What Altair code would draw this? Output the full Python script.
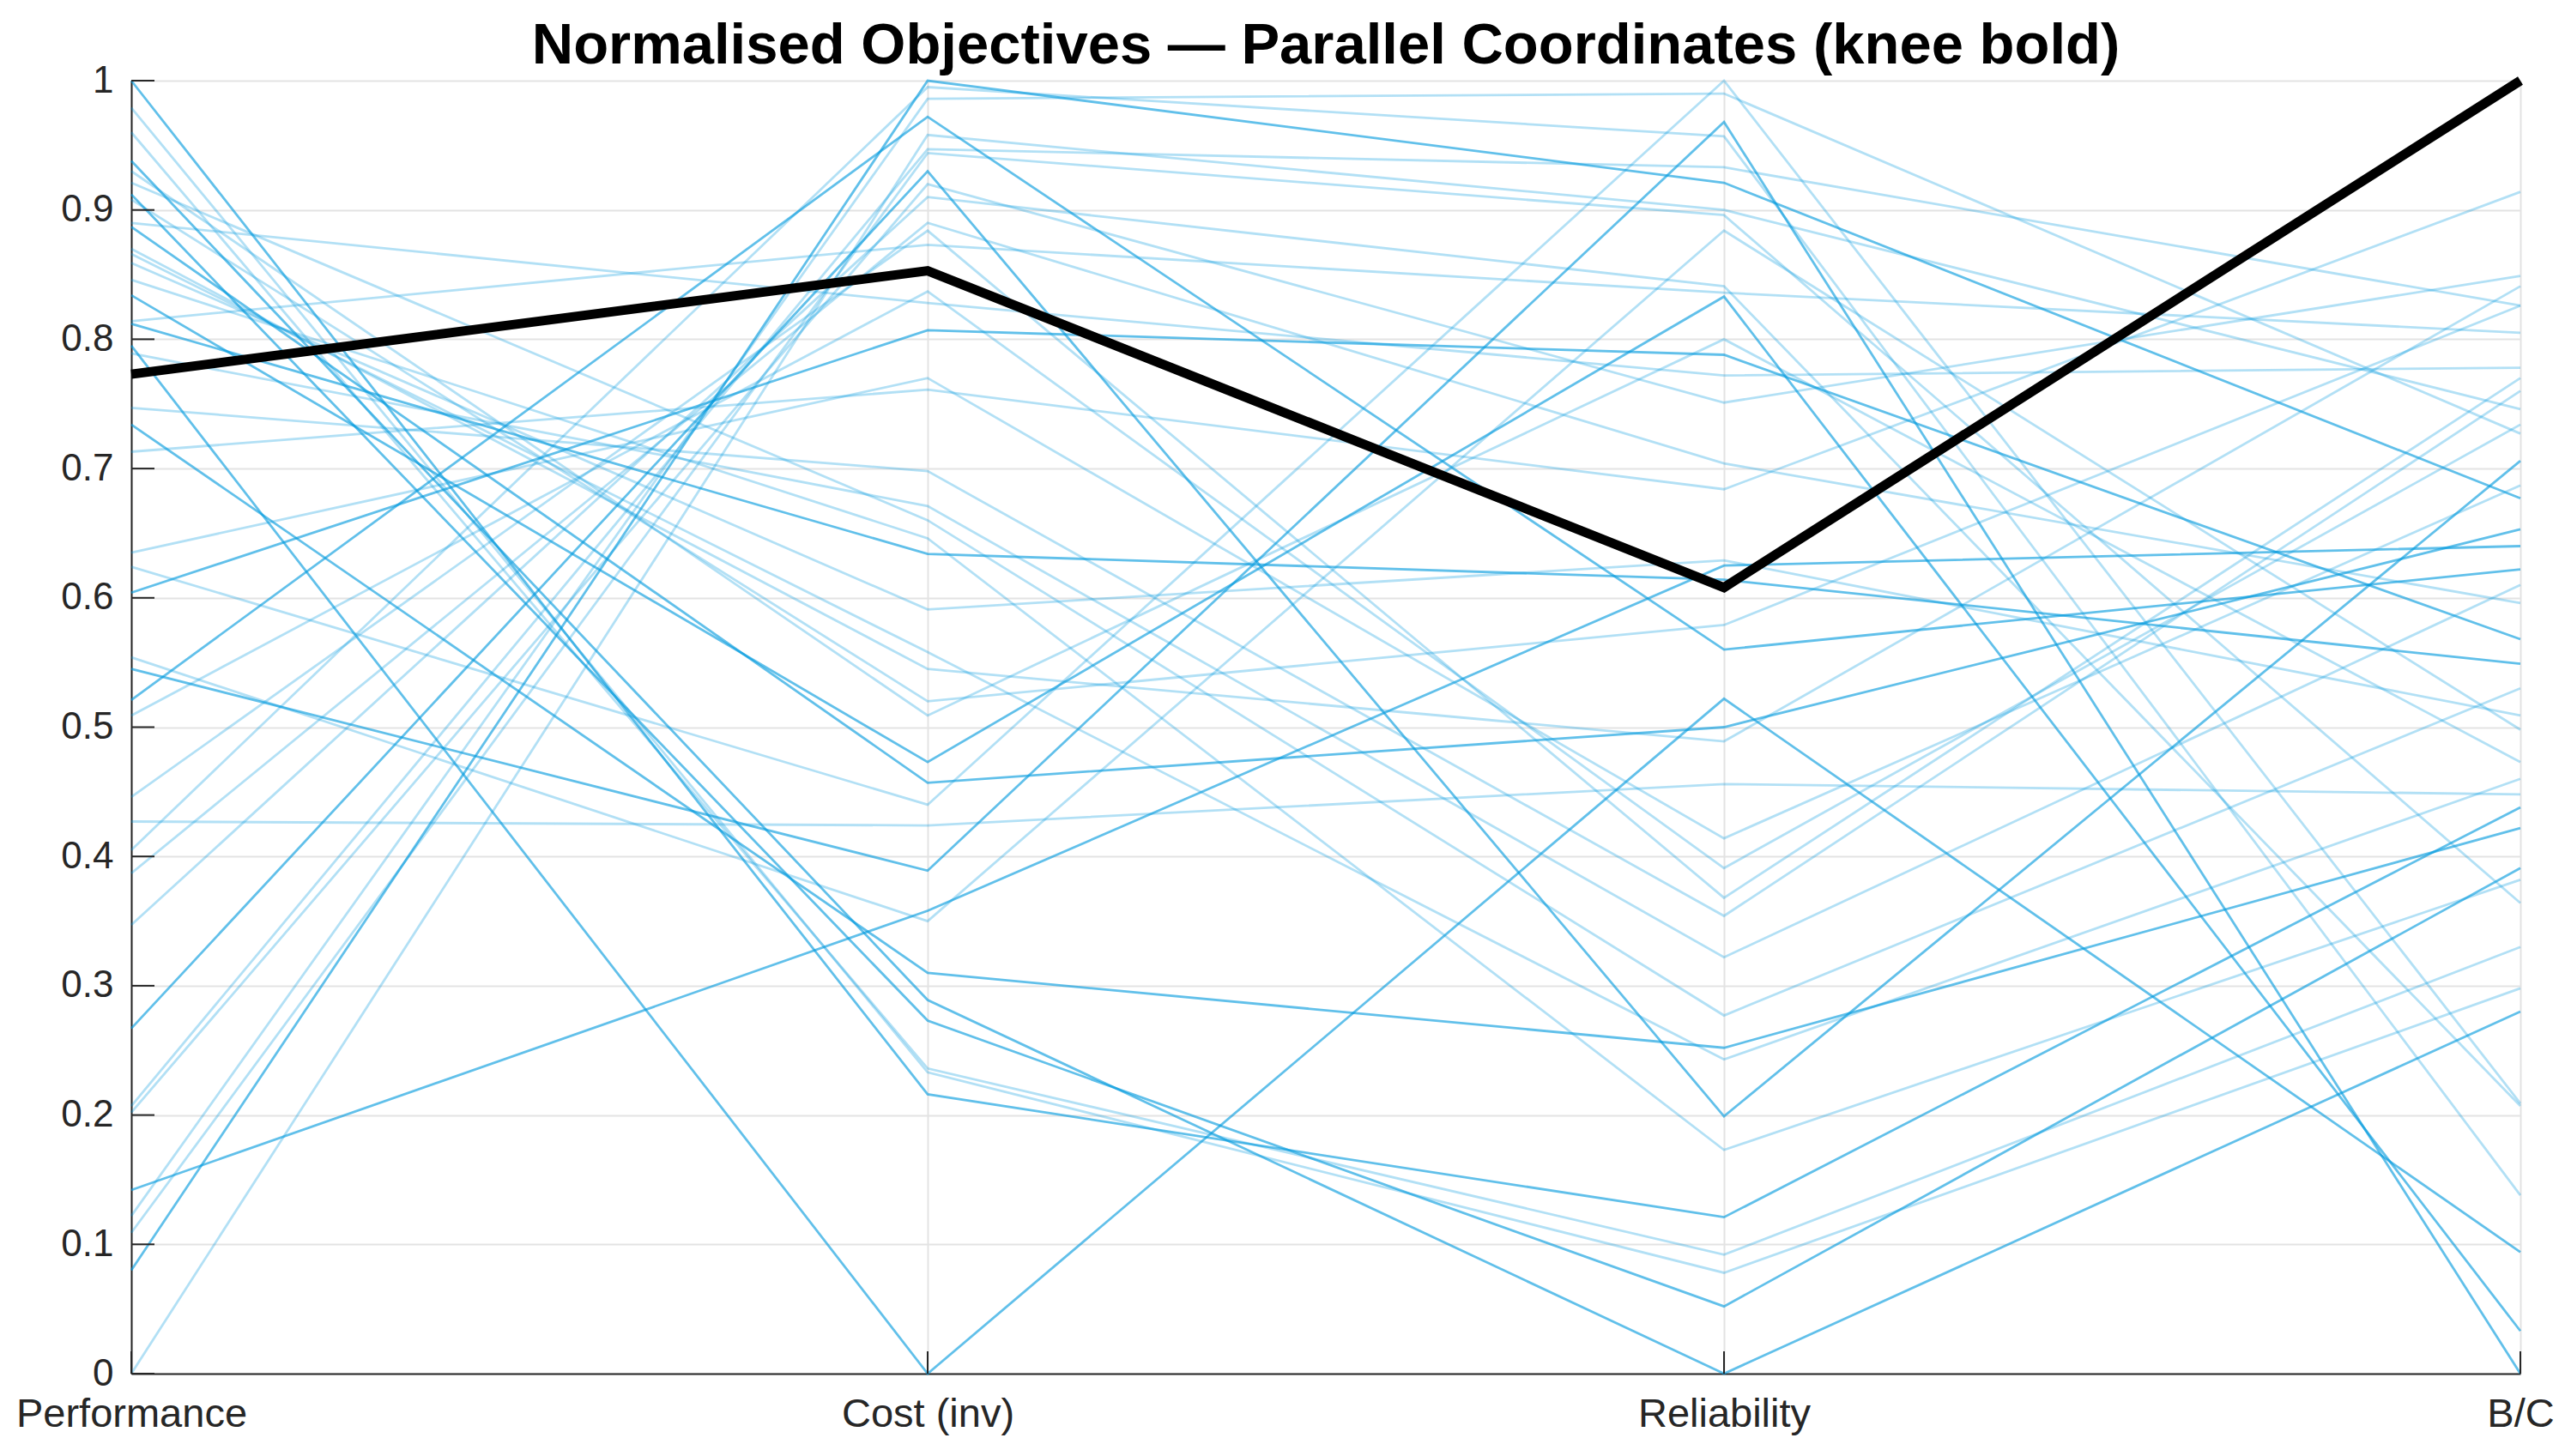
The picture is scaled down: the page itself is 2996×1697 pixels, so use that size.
import altair as alt
import pandas as pd

# ---------------- data ----------------
axes_labels = ["Performance", "Cost (inv)", "Reliability", "B/C"]

performance = [1.000, 0.979, 0.960, 0.938, 0.930, 0.921, 0.912, 0.908, 0.890, 0.887,
               0.870, 0.866, 0.859, 0.846, 0.834, 0.814, 0.812, 0.795, 0.789, 0.747,
               0.734, 0.713, 0.635, 0.624, 0.604, 0.554, 0.545, 0.521, 0.509, 0.446,
               0.427, 0.405, 0.387, 0.347, 0.267, 0.207, 0.202, 0.142, 0.122, 0.109,
               0.080, 0.000]
cost = [0.216, 0.233, 0.236, 0.289, 0.509, 0.660, 0.273, 0.520, 0.828, 0.457,
        0.545, 0.558, 0.591, 0.646, 0.473, 0.873, 0.634, 0.000, 0.671, 0.698,
        0.310, 0.761, 0.770, 0.440, 0.807, 0.350, 0.389, 0.972, 0.837, 0.884,
        0.424, 0.995, 0.890, 0.910, 0.930, 0.947, 0.920, 0.358, 0.986, 0.944,
        1.000, 0.958]
reliability = [0.121, 0.078, 0.092, 0.000, 0.800, 0.277, 0.052, 0.579, 0.772, 0.500,
               0.489, 0.243, 0.629, 0.173, 0.833, 0.836, 0.614, 0.522, 0.322, 0.354,
               0.252, 0.684, 0.414, 1.000, 0.788, 0.884, 0.968, 0.560, 0.391, 0.368,
               0.456, 0.957, 0.704, 0.841, 0.199, 0.933, 0.751, 0.625, 0.990, 0.896,
               0.921, 0.900]
bc = [0.438, 0.298, 0.330, 0.280, 0.473, 0.530, 0.391, 0.826, 0.778, 0.653,
      0.841, 0.460, 0.509, 0.382, 0.033, 0.805, 0.549, 0.094, 0.610, 0.760,
      0.422, 0.914, 0.687, 0.209, 0.568, 0.498, 0.000, 0.622, 0.734, 0.770,
      0.448, 0.138, 0.596, 0.207, 0.706, 0.826, 0.849, 0.640, 0.727, 0.364,
      0.677, 0.746]
shade = ["dark", "light", "light", "dark", "light", "light", "dark", "light", "light", "dark",
         "light", "light", "light", "light", "dark", "light", "dark", "dark", "light", "light",
         "dark", "light", "light", "light", "dark", "light", "dark", "dark", "light", "light",
         "light", "light", "light", "light", "dark", "light", "light", "dark", "light", "light",
         "dark", "light"]

knee = [0.773, 0.853, 0.608, 1.000]

y_ticks = [0, 0.1, 0.2, 0.3, 0.4, 0.5, 0.6, 0.7, 0.8, 0.9, 1]

title_text = "Normalised Objectives \u2014 Parallel Coordinates (knee bold)"

# ---------------- tables ----------------
rows = []
cols = [performance, cost, reliability, bc]
for i in range(len(performance)):
    for j, lab in enumerate(axes_labels):
        rows.append({"id": i, "axis": lab, "k": j, "v": cols[j][i], "shade": shade[i]})
df = pd.DataFrame(rows)
knee_df = pd.DataFrame({"axis": axes_labels, "k": list(range(4)), "v": knee})
ytick_df = pd.DataFrame({"t": y_ticks})
xtick_df = pd.DataFrame({"axis": axes_labels})
title_df = pd.DataFrame({"t": [title_text]})

W, H = 2784, 1507
FONT = "Liberation Sans"
INK = "#262626"
GRID = "#E3E3E3"

xscale = alt.Scale(domain=axes_labels, type="point", padding=0)
yscale = alt.Scale(domain=[0, 1], nice=False, zero=False)

x_axis = alt.Axis(title=None, labelAngle=0, labelFontSize=47, labelFont=FONT, labelColor=INK,
                  labelPadding=24, labelOverlap=False, labelFlush=False, labelLimit=1000,
                  ticks=False, domainColor=INK, domainWidth=2, grid=True, gridColor=GRID,
                  gridWidth=2)
y_axis = alt.Axis(title=None, values=y_ticks, format="~g", labelFontSize=44, labelFont=FONT,
                  labelColor=INK, labelPadding=21, ticks=False, domainColor=INK, domainWidth=2,
                  grid=True, gridColor=GRID, gridWidth=2, labelFlush=False)

lines = alt.Chart(df).mark_line(strokeWidth=2.8, color="#0099DD").encode(
    x=alt.X("axis:N", scale=xscale, sort=axes_labels, axis=x_axis),
    y=alt.Y("v:Q", scale=yscale, axis=y_axis),
    detail="id:N",
    order="k:Q",
    opacity=alt.Opacity("shade:N", scale=alt.Scale(domain=["dark", "light"], range=[0.62, 0.3]),
                        legend=None),
)

knee_line = alt.Chart(knee_df).mark_line(strokeWidth=11, color="black").encode(
    x=alt.X("axis:N", scale=xscale, sort=axes_labels),
    y=alt.Y("v:Q", scale=yscale),
    order="k:Q",
)

yticks = alt.Chart(ytick_df).mark_rule(color=INK, strokeWidth=2).encode(
    y=alt.Y("t:Q", scale=yscale),
    x=alt.value(0),
    x2=alt.value(27),
)

xticks = alt.Chart(xtick_df).mark_rule(color=INK, strokeWidth=2).encode(
    x=alt.X("axis:N", scale=xscale, sort=axes_labels),
    y=alt.value(H),
    y2=alt.value(H - 26),
)

title_mark = alt.Chart(title_df).mark_text(
    font=FONT, fontSize=67, fontWeight="bold", color="black", align="center",
    baseline="alphabetic"
).encode(
    text="t:N",
    x=alt.value(W / 2),
    y=alt.value(-20),
)

chart = alt.layer(lines, knee_line, yticks, xticks, title_mark).properties(
    width=W,
    height=H,
    autosize=alt.AutoSizeParams(type="none"),
    padding={"left": 145, "top": 86, "right": 51, "bottom": 96},
    background="white",
).configure_view(stroke=None)

chart.save("out.html", embed_options={"renderer": "svg", "actions": False})
